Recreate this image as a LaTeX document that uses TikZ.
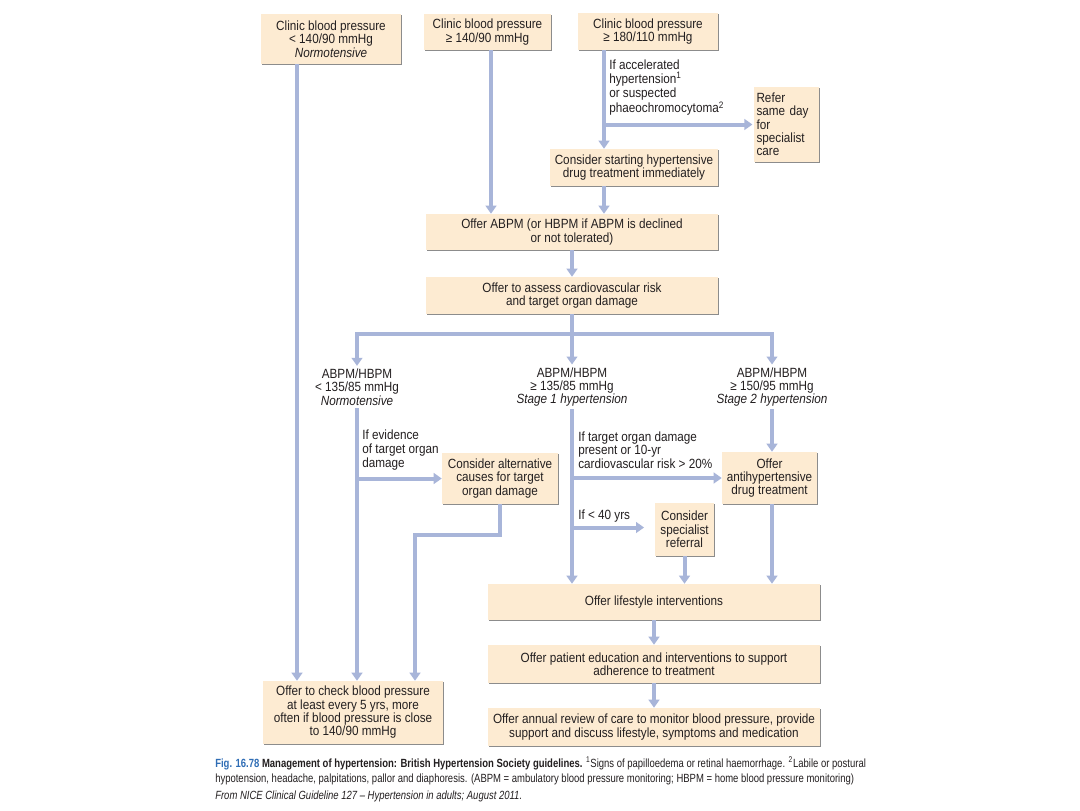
\documentclass[tikz,border=0pt]{standalone}
\usepackage{fontspec}
\setmainfont{Liberation Sans}[FakeStretch=0.88]
\newfontfamily\capfont{Liberation Sans}[FakeStretch=0.8]
\usetikzlibrary{arrows.meta,calc}
\definecolor{boxfill}{HTML}{FDEBD2}
\definecolor{conn}{HTML}{A8B5D9}
\definecolor{shd}{HTML}{8C8C8C}
\definecolor{txt}{HTML}{231F20}
\definecolor{figblue}{HTML}{2F6DB5}
\tikzset{
  boxst/.style={fill=boxfill, inner sep=1pt, align=center, text=txt, font=\fontsize{10}{10}\selectfont},
  lbl/.style={inner sep=2pt, align=center, text=txt, font=\fontsize{10}{10}\selectfont},
  lbll/.style={inner sep=0pt, align=left, anchor=west, text=txt, font=\fontsize{10}{10.3}\selectfont},
  conline/.style={draw=conn, line width=3pt},
  arr/.style={conline, -{Triangle[width=8pt,length=6pt]}},
  shadowln/.style={draw=shd, line width=1pt},
  capst/.style={anchor=west, inner sep=0pt, text=txt, font=\capfont\fontsize{8.9}{10}\selectfont},
}
\newcommand\bx[7][]{%
  \pgfmathsetmacro\bxw{(#5-#3)*0.75}%
  \pgfmathsetmacro\bxh{(#6-#4)*0.75}%
  \node[boxst, minimum width=\bxw pt, minimum height=\bxh pt, #1] (#2) at ({(#3+#5)/2},{(#4+#6)/2}) {#7};
  \draw[shadowln] ([yshift=-1pt]#2.north east) -- (#2.south east) -- ([xshift=1pt]#2.south west);
}
\begin{document}
\begin{tikzpicture}[x=0.75pt,y=-0.75pt]
\useasboundingbox[fill=white] (0,0) rectangle (1080,810);

% lanes
\coordinate (L1) at (297,0);
\coordinate (B2) at (491,0);
\coordinate (B3) at (604,0);
\coordinate (hub) at (572,334);
\coordinate (jog) at (415,535);

% boxes
\bx{b1}{261}{14}{401}{64}{Clinic blood pressure\\< 140/90 mmHg\\\textit{Normotensive}}
\bx{b2}{424}{14}{551}{50}{Clinic blood pressure\\≥ 140/90 mmHg}
\bx{b3}{578}{13}{718}{50}{Clinic blood pressure\\≥ 180/110 mmHg}
\bx[align=left, text width=45pt]{refer}{754}{87}{819}{162}{Refer\\same day\\for\\specialist\\care}
\bx{start}{550}{149}{718}{186}{Consider starting hypertensive\\drug treatment immediately}
\bx{abpm}{426}{214}{718}{250}{Offer ABPM (or HBPM if ABPM is declined\\or not tolerated)}
\bx{assess}{426}{277}{718}{314}{Offer to assess cardiovascular risk\\and target organ damage}
\bx{alt}{442}{453}{558}{504}{Consider alternative\\causes for target\\organ damage}
\bx{anti}{722}{452}{817}{504}{Offer\\antihypertensive\\drug treatment}
\bx{spec}{655}{503}{714}{556}{Consider\\specialist\\referral}
\bx{life}{488}{584}{820}{620}{Offer lifestyle interventions}
\bx{edu}{488}{645}{820}{683}{Offer patient education and interventions to support\\adherence to treatment}
\bx{annual}{488}{708}{820}{746}{Offer annual review of care to monitor blood pressure, provide\\support and discuss lifestyle, symptoms and medication}
\bx{chk}{263}{681}{443}{744}{Offer to check blood pressure\\at least every 5 yrs, more\\often if blood pressure is close\\to 140/90 mmHg}

% plain labels
\node[lbl] (n1) at (357,387) {ABPM/HBPM\\< 135/85 mmHg\\\textit{Normotensive}};
\node[lbl] (n2) at (572,387) {ABPM/HBPM\\≥ 135/85 mmHg\\\textit{Stage 1 hypertension}};
\node[lbl] (n3) at (772,387) {ABPM/HBPM\\≥ 150/95 mmHg\\\textit{Stage 2 hypertension}};
\node[lbll] (acc) at (609,88) {If accelerated\\hypertension\textsuperscript{1}\\or suspected\\phaeochromocytoma\textsuperscript{2}};
\node[lbll] (ev) at (362,450) {If evidence\\of target organ\\damage};
\node[lbll] (tod) at (578,450) {If target organ damage\\present or 10-yr\\cardiovascular risk > 20\%};
\node[lbll] (lt40) at (578,516) {If < 40 yrs};

% connectors
\draw[arr] (b1.south -| L1) -- (chk.north -| L1);
\draw[arr] (b2.south -| B2) -- (abpm.north -| B2);
\draw[arr] (b3.south -| B3) -- (start.north -| B3);
\draw[arr] (refer.west -| B3) -- ([xshift=-1pt]refer.west);
\draw[arr] (start.south -| B3) -- (abpm.north -| B3);
\draw[arr] (abpm.south -| hub) -- (assess.north -| hub);
\draw[conline] (assess.south -| hub) -- (hub);
\draw[arr] (hub) -- (n2.north);
\draw[arr] ([xshift=1.5pt]hub) -| (n1.north);
\draw[arr] ([xshift=-1.5pt]hub) -| (n3.north);
\draw[arr] (n1.south) -- (chk.north -| n1.south);
\draw[arr] (alt.west -| n1.south) -- (alt.west);
\draw[arr] (alt.south) |- (jog) -- (jog |- chk.north);
\draw[arr] (n2.south) -- (life.north -| n2.south);
\draw[arr] (anti.west -| n2.south) -- (anti.west);
\draw[arr] ([yshift=1.5pt]spec.west -| n2.south) -- ([xshift=-8pt,yshift=1.5pt]spec.west);
\draw[arr] (n3.south) -- (anti.north -| n3.south);
\draw[arr] (anti.south -| n3.south) -- (life.north -| n3.south);
\draw[arr] (spec.south) -- (life.north -| spec.south);
\draw[arr] (life.south) -- (edu.north);
\draw[arr] (edu.south) -- (annual.north);

% caption
\node[capst] (cap1) at (215,763) {\textcolor{figblue}{\textbf{Fig. 16.78}} \textbf{Management of hypertension: British Hypertension Society guidelines.} \textsuperscript{1}Signs of papilloedema or retinal haemorrhage. \textsuperscript{2}Labile or postural};
\node[capst] (cap2) at (215,779) {hypotension, headache, palpitations, pallor and diaphoresis. (ABPM = ambulatory blood pressure monitoring; HBPM = home blood pressure monitoring)};
\node[capst] (cap3) at (215,796) {\textit{From NICE Clinical Guideline 127 – Hypertension in adults; August 2011.}};
\end{tikzpicture}
\end{document}
